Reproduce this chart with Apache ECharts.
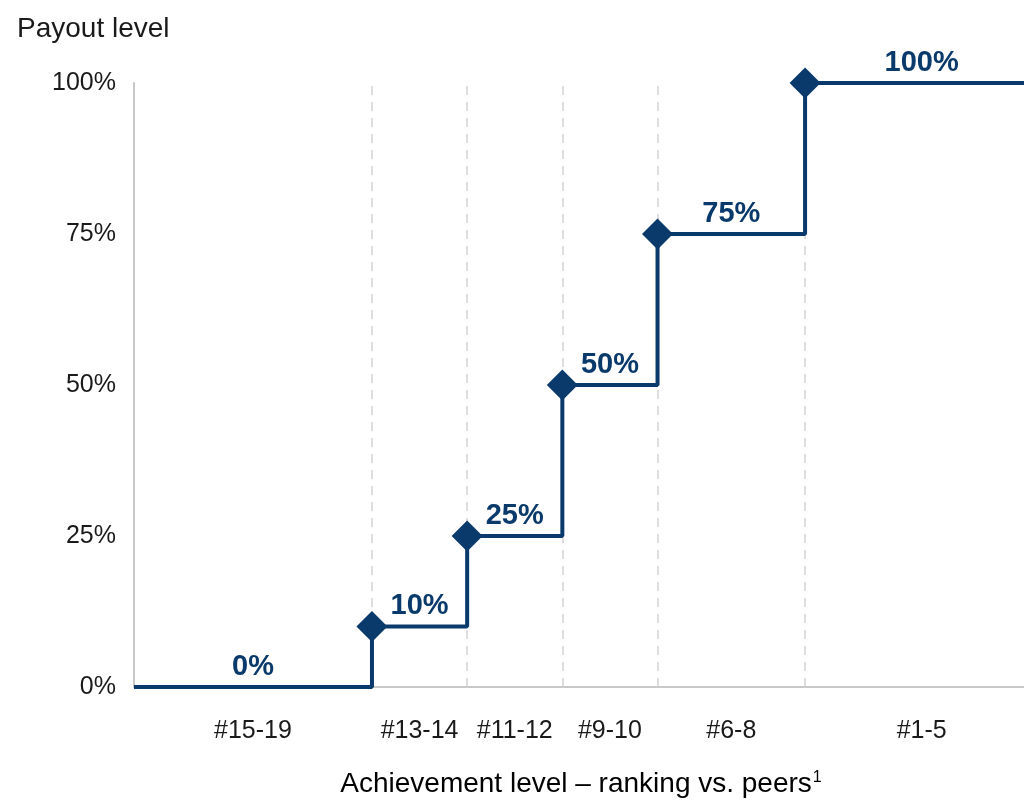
<!DOCTYPE html>
<html>
<head>
<meta charset="utf-8">
<script src="https://cdn.jsdelivr.net/npm/echarts@6/dist/echarts.min.js"></script>
<style>
html,body{margin:0;padding:0;background:#fff;}
#chart{width:1024px;height:800px;}
</style>
</head>
<body>
<div id="chart"></div>
<script>
// Data
const categories = ['#15-19', '#13-14', '#11-12', '#9-10', '#6-8', '#1-5'];
const categoryEdges = [0, 5, 7, 9, 11, 14.1, 19]; // ranking-position edges of each category band
const payouts = [0, 10, 25, 50, 75, 100];         // payout level (%) per category
const yTicks = [0, 25, 50, 75, 100];

const NAVY = '#0a3a6b';
const FONT = 'Liberation Sans, Arial, sans-serif';

// Build marks from the arrays
const stepLine = [];
categories.forEach((c, i) => {
  stepLine.push([categoryEdges[i], payouts[i]]);
  stepLine.push([categoryEdges[i + 1], payouts[i]]);
});
const diamonds = [];
for (let i = 1; i < categories.length; i++) diamonds.push([categoryEdges[i], payouts[i]]);
const mids = categories.map((c, i) => (categoryEdges[i] + categoryEdges[i + 1]) / 2);
const valueLabels = categories.map((c, i) => [mids[i], payouts[i]]);
const catLabels = categories.map((c, i) => [mids[i], 0]);
const dividers = categoryEdges.slice(1, categoryEdges.length - 1);

const chart = echarts.init(document.getElementById('chart'), null, {renderer: 'canvas'});
chart.setOption({
  animation: false,
  backgroundColor: '#fff',
  textStyle: {fontFamily: FONT},
  title: {
    text: 'Payout level',
    left: 12, top: 10,
    textStyle: {fontFamily: FONT, fontSize: 28, fontWeight: 'normal', color: '#1a1a1a'}
  },
  grid: {left: 134, right: 0, top: 83, bottom: 113, containLabel: false},
  xAxis: {
    type: 'value', min: 0, max: 18.7,
    axisLine: {show: true, lineStyle: {color: '#c8c8c8', width: 2}},
    axisTick: {show: false},
    axisLabel: {show: false},
    splitLine: {show: false}
  },
  yAxis: {
    type: 'value', min: 0, max: 100, interval: 25,
    axisLine: {show: true, lineStyle: {color: '#c8c8c8', width: 2}},
    axisTick: {show: false},
    splitLine: {show: false},
    axisLabel: {
      formatter: v => yTicks.includes(v) ? v + '%' : '',
      fontFamily: FONT, fontSize: 25, color: '#1a1a1a', margin: 18
    }
  },
  graphic: [{
    type: 'text',
    x: 581, y: 784,
    style: {
      text: '{a|Achievement level – ranking vs. peers}{s|1}',
      align: 'center', verticalAlign: 'middle',
      rich: {
        a: {fontFamily: FONT, fontSize: 28, color: '#1a1a1a'},
        s: {fontFamily: FONT, fontSize: 16, color: '#1a1a1a', verticalAlign: 'top', padding: [0, 0, 8, 1]}
      }
    }
  }],
  series: [
    {
      type: 'line',
      data: [],
      z: 1,
      silent: true,
      markLine: {
        silent: true,
        z: 1,
        symbol: 'none',
        label: {show: false},
        lineStyle: {color: '#d4d4d4', type: [9, 7], width: 1.5},
        data: dividers.map(v => ({xAxis: v}))
      }
    },
    {
      type: 'line',
      data: stepLine,
      symbol: 'none',
      lineStyle: {color: NAVY, width: 4},
      z: 3
    },
    {
      type: 'scatter',
      data: diamonds,
      symbol: 'diamond',
      symbolSize: 31,
      itemStyle: {color: NAVY, opacity: 1},
      z: 4
    },
    {
      type: 'scatter',
      data: valueLabels,
      symbolSize: 0,
      itemStyle: {opacity: 1},
      label: {
        show: true, position: 'top', distance: 6,
        formatter: p => payouts[p.dataIndex] + '%',
        fontFamily: FONT, fontSize: 29, fontWeight: 'bold', color: NAVY
      },
      z: 5
    },
    {
      type: 'scatter',
      data: catLabels,
      symbolSize: 0,
      itemStyle: {opacity: 1},
      label: {
        show: true, position: 'bottom', distance: 32,
        formatter: p => categories[p.dataIndex],
        fontFamily: FONT, fontSize: 25, color: '#1a1a1a'
      },
      z: 5
    }
  ]
});
</script>
</body>
</html>
